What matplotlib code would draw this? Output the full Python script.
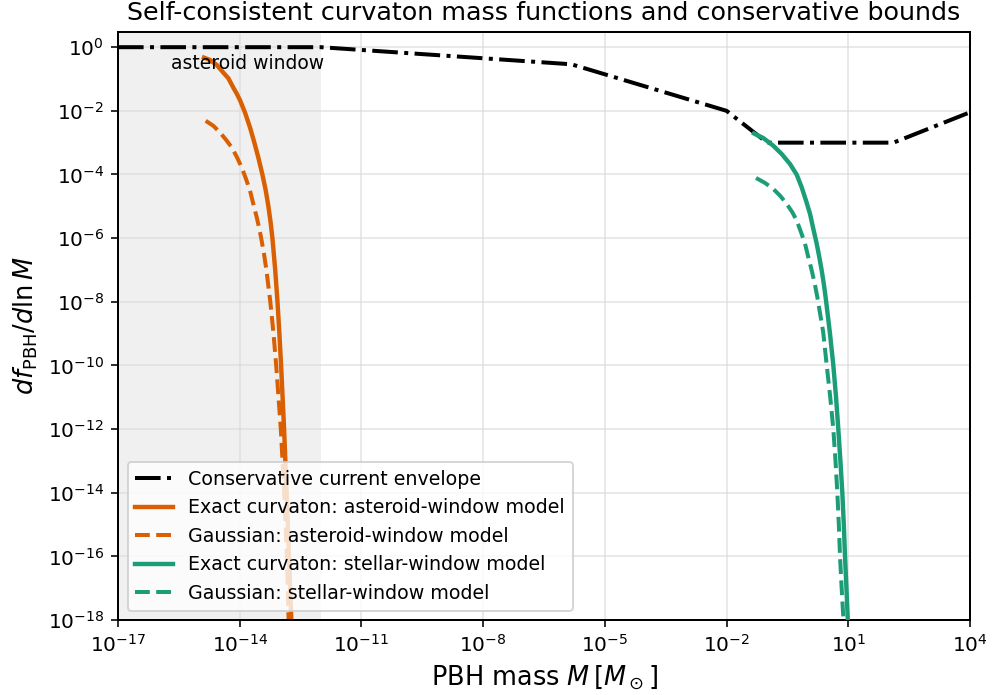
import numpy as np
import matplotlib
matplotlib.use("Agg")
import matplotlib.pyplot as plt

# ---- data ----
env_M = [1e-17, 1e-12, 1.5e-6, 1e-2, 1e-1, 1.3e2, 1e4]
env_f = [1.0, 1.0, 0.29, 1e-2, 1e-3, 1e-3, 9e-3]

ast_exact_logM = [-14.880, -14.732, -14.567, -14.404, -14.281, -14.158, -14.074, -13.993,
                  -13.870, -13.746, -13.640, -13.542, -13.441, -13.359, -13.293, -13.239,
                  -13.194, -13.125, -13.069, -13.022, -12.980, -12.906, -12.844, -12.785,
                  -12.728, -12.711]
ast_exact_logf = [-0.329, -0.401, -0.558, -0.799, -0.975, -1.270, -1.458, -1.665,
                  -2.053, -2.524, -2.994, -3.464, -4.0, -4.5, -5.0, -5.5,
                  -6.0, -7.0, -8.0, -9.0, -10.0, -12.0, -14.0, -16.0,
                  -18.0, -18.6]

ast_gauss_logM = [-14.838, -14.651, -14.486, -14.338, -14.197, -14.074, -13.951, -13.845,
                  -13.746, -13.665, -13.581, -13.525, -13.475, -13.401, -13.342, -13.246,
                  -13.167, -13.101, -12.987, -12.903, -12.839, -12.795, -12.783]
ast_gauss_logf = [-2.313, -2.470, -2.680, -2.909, -3.150, -3.442, -3.777, -4.141,
                  -4.508, -4.925, -5.345, -5.658, -5.972, -6.5, -7.0, -8.0,
                  -9.0, -10.0, -12.0, -14.0, -16.0, -18.0, -18.6]

st_exact_logM = [-1.323, -1.094, -0.848, -0.641, -0.436, -0.271, -0.148, -0.042,
                 0.057, 0.138, 0.222, 0.286, 0.345, 0.402, 0.451, 0.545,
                 0.631, 0.698, 0.754, 0.806, 0.853, 0.890, 0.919, 0.954,
                 0.986, 1.009]
st_exact_logf = [-2.712, -2.856, -3.097, -3.357, -3.671, -4.006, -4.404, -4.821,
                 -5.238, -5.708, -6.179, -6.599, -7.016, -7.486, -7.956, -8.959,
                 -9.994, -10.997, -12.0, -13.003, -14.0, -15.009, -16.0, -16.984,
                 -17.93, -18.6]

st_gauss_logM = [-1.274, -1.052, -0.848, -0.682, -0.517, -0.379, -0.271, -0.165,
                 -0.066, 0.015, 0.099, 0.173, 0.237, 0.333, 0.382, 0.468,
                 0.555, 0.631, 0.685, 0.730, 0.767, 0.796, 0.836, 0.878, 0.90]
st_gauss_logf = [-4.110, -4.266, -4.455, -4.665, -4.925, -5.188, -5.448, -5.815,
                 -6.179, -6.599, -7.016, -7.433, -7.853, -8.583, -8.959, -9.994,
                 -10.997, -12.0, -13.003, -14.0, -15.009, -16.0, -16.984, -17.93, -18.6]

window_lo, window_hi = 1e-17, 1e-12

c_orange = "#d95f02"
c_green = "#1b9e77"

DPI = 144
fig = plt.figure(figsize=(992 / DPI, 695 / DPI), dpi=DPI)
ax = fig.add_axes([118 / 992, 1 - 620 / 695, (970 - 118) / 992, (620 - 32) / 695])

ax.axvspan(window_lo, window_hi, color="#f0f0f0", zorder=0, lw=0)
ax.text(2e-16, 0.2, "asteroid window", fontsize=9.4, zorder=3)

ax.plot(env_M, env_f, color="black", ls="-.", lw=2, label="Conservative current envelope", zorder=4)

ax.plot(10 ** np.array(ast_exact_logM), 10 ** np.array(ast_exact_logf), color=c_orange, lw=2.2,
        label="Exact curvaton: asteroid-window model")
ax.plot(10 ** np.array(ast_gauss_logM), 10 ** np.array(ast_gauss_logf), color=c_orange, lw=2, ls="--",
        label="Gaussian: asteroid-window model")
ax.plot(10 ** np.array(st_exact_logM), 10 ** np.array(st_exact_logf), color=c_green, lw=2.2,
        label="Exact curvaton: stellar-window model", zorder=5)
ax.plot(10 ** np.array(st_gauss_logM), 10 ** np.array(st_gauss_logf), color=c_green, lw=2, ls="--",
        label="Gaussian: stellar-window model")

ax.set_xscale("log")
ax.set_yscale("log")
ax.set_xlim(1e-17, 1e4)
ax.set_ylim(1e-18, 3)
ax.set_xticks([10.0 ** k for k in range(-17, 5, 3)])
ax.set_yticks([10.0 ** k for k in range(-18, 1, 2)])
ax.minorticks_off()
ax.tick_params(labelsize=10)
ax.grid(True, color="0.85", lw=0.8, alpha=0.7)
ax.set_axisbelow(True)
for s in ax.spines.values():
    s.set_linewidth(1.0)

ax.set_xlabel(r"PBH mass $M\,[M_\odot]$", fontsize=12.8)
ax.set_ylabel(r"$df_{\rm PBH}/d\ln M$", fontsize=12.8)
ax.set_title("Self-consistent curvaton mass functions and conservative bounds", fontsize=12.7)
ax.legend(loc="lower left", fontsize=9.5)

fig.savefig("out.png", dpi=DPI)
